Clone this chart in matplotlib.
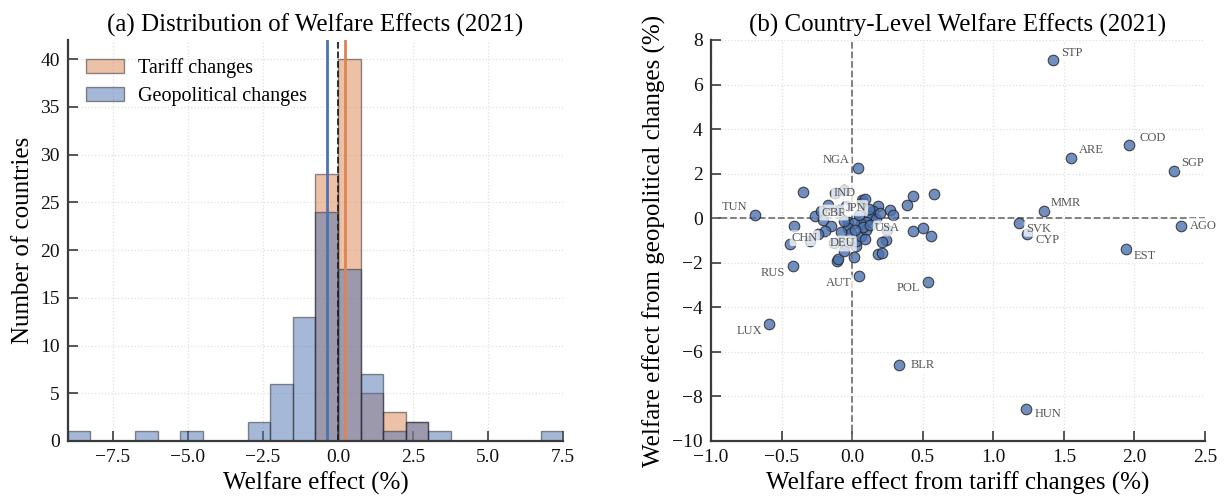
import numpy as np
import matplotlib
matplotlib.use("Agg")
import matplotlib.pyplot as plt

plt.rcParams["font.family"] = ["Liberation Serif", "DejaVu Serif"]
plt.rcParams["axes.unicode_minus"] = True

# Country-level welfare effects (%), 2021
labeled_codes = ["STP", "COD", "ARE", "SGP", "NGA", "MMR", "AGO", "SVK", "CYP", "EST",
                 "HUN", "BLR", "LUX", "POL", "AUT", "RUS", "TUN", "CHN", "IND", "GBR",
                 "JPN", "DEU", "USA"]
labeled_tariff = [1.42, 1.96, 1.55, 2.28, 0.04, 1.36, 2.33, 1.18, 1.24, 1.94,
                  1.23, 0.33, -0.59, 0.54, 0.05, -0.42, -0.69, -0.30, -0.12, -0.03,
                  0.14, -0.05, 0.25]
labeled_geo = [7.10, 3.28, 2.70, 2.12, 2.27, 0.33, -0.34, -0.21, -0.70, -1.36,
               -8.55, -6.58, -4.73, -2.87, -2.58, -2.13, 0.16, -1.03, 1.14, -0.15,
               0.10, -1.18, -0.55]

other_tariff = [-0.35, -0.17, -0.26, -0.22, -0.21, -0.41, -0.15, -0.19, -0.24, -0.44,
                -0.11, -0.10, -0.06, 0.01, 0.03, 0.03, 0.06, 0.07, 0.07, 0.18,
                0.15, 0.12, 0.17, 0.10, 0.06, 0.01, -0.03, -0.01, 0.10, 0.27,
                0.29, 0.39, 0.43, 0.58, 0.43, 0.50, 0.56, 0.24, 0.21, 0.18,
                0.21, -0.06, 0.05, -0.04, -0.06, 0.09, 0.12, 0.20, -0.09, 0.08,
                0.13, 0.02, -0.08, 0.09, -0.13]
other_geo = [1.19, 0.61, 0.09, 0.31, -0.09, -0.33, -0.36, -0.58, -0.69, -1.15,
             -1.93, -1.85, -1.45, -1.73, -1.25, -1.04, -0.81, 0.81, 0.69, 0.57,
             0.31, 0.09, -0.03, -0.18, -0.28, -0.21, -0.43, -0.66, -0.51, 0.39,
             0.15, 0.61, 0.99, 1.07, -0.57, -0.46, -0.79, -0.96, -1.07, -1.61,
             -1.54, -0.13, 0.16, 0.54, 1.28, 0.86, 0.42, 0.22, 0.35, -0.38,
             -0.30, -0.55, -0.62, -0.92, -1.12]

# label placement: (dx, dy) in pixels, horizontal alignment
label_offsets = {
    "STP": (9, 7, "left"), "COD": (11, 7, "left"), "ARE": (8, 8, "left"),
    "SGP": (7, 8, "left"), "MMR": (7, 8, "left"), "AGO": (9, 0, "left"),
    "SVK": (7, -6, "left"), "CYP": (8, -6, "left"), "EST": (8, -7, "left"),
    "HUN": (9, -5, "left"), "BLR": (12, 0, "left"),
    "LUX": (-7, -7, "right"), "POL": (-8, -6, "right"), "AUT": (-8, -7, "right"),
    "RUS": (-8, -7, "right"), "TUN": (-7, 8, "right"), "NGA": (-8, 8, "right"),
    "CHN": (-5, 3, "center"), "IND": (9, 0, "center"), "GBR": (-14, 9, "center"),
    "JPN": (-16, 8, "center"), "DEU": (-3, 1, "center"), "USA": (0, 2, "center"),
}

tariff = np.array(labeled_tariff + other_tariff)
geo = np.array(labeled_geo + other_geo)

bin_edges = np.arange(-9.0, 7.5 + 1e-9, 0.75)

c_blue = "#4C72B0"
c_orange = "#DD8452"
axis_col = "#3a3a3a"

fig = plt.figure(figsize=(12.25, 5.03), dpi=100)
ax1 = fig.add_axes([0.0555, 0.1233, 0.4041, 0.7972])
ax2 = fig.add_axes([0.5804, 0.1233, 0.4033, 0.7972])


def style_axes(ax):
    for side in ("top", "right"):
        ax.spines[side].set_visible(False)
    for side in ("left", "bottom"):
        ax.spines[side].set_color(axis_col)
        ax.spines[side].set_linewidth(1.6)
    ax.tick_params(direction="in", length=7, width=1.2, colors=axis_col,
                   labelsize=14, labelcolor="#111111", pad=6)
    ax.grid(True, linestyle=":", color="#e0e0e0", linewidth=0.9)
    ax.set_axisbelow(True)


# (a) histogram
style_axes(ax1)
ax1.hist(tariff, bins=bin_edges, color=c_orange, alpha=0.5, edgecolor="#222222",
         linewidth=1.0, label="Tariff changes")
ax1.hist(geo, bins=bin_edges, color=c_blue, alpha=0.5, edgecolor="#222222",
         linewidth=1.0, label="Geopolitical changes")
ax1.axvline(0, color="#222222", linestyle="--", linewidth=1.3)
ax1.axvline(tariff.mean(), color=c_orange, linewidth=2)
ax1.axvline(geo.mean(), color=c_blue, linewidth=2)
ax1.set_xlim(-9.0, 7.5)
ax1.set_ylim(0, 42)
ax1.set_xticks([-7.5, -5.0, -2.5, 0.0, 2.5, 5.0, 7.5])
ax1.set_yticks(range(0, 41, 5))
ax1.set_xlabel("Welfare effect (%)", fontsize=18, labelpad=4)
ax1.set_ylabel("Number of countries", fontsize=18, labelpad=4)
ax1.set_title("(a) Distribution of Welfare Effects (2021)", fontsize=18, pad=6)
ax1.legend(loc="upper left", frameon=False, fontsize=14.5, handlelength=1.9,
           handletextpad=0.7, borderaxespad=0.5, labelspacing=0.45)

# (b) scatter
style_axes(ax2)
ax2.axhline(0, color="#777777", linestyle="--", linewidth=1.3, zorder=1)
ax2.axvline(0, color="#777777", linestyle="--", linewidth=1.3, zorder=1)
ax2.scatter(tariff, geo, s=58, color=c_blue, alpha=0.8, edgecolor="#222222",
            linewidth=0.8, zorder=3)
for code, x, y in zip(labeled_codes, labeled_tariff, labeled_geo):
    dx, dy, ha = label_offsets[code]
    ax2.annotate(code, (x, y), xytext=(dx, dy), textcoords="offset pixels",
                 ha=ha, va="center", fontsize=9, color="#555555", zorder=4,
                 bbox=dict(boxstyle="round,pad=0.15", fc="white", ec="none", alpha=0.75))
ax2.set_xlim(-1.0, 2.5)
ax2.set_ylim(-10, 8)
ax2.set_xticks(np.arange(-1.0, 2.51, 0.5))
ax2.set_yticks(range(-10, 9, 2))
ax2.set_xlabel("Welfare effect from tariff changes (%)", fontsize=18, labelpad=4)
ax2.set_ylabel("Welfare effect from geopolitical changes (%)", fontsize=18, labelpad=4)
ax2.set_title("(b) Country-Level Welfare Effects (2021)", fontsize=18, pad=6)

fig.savefig("out.png", dpi=100)
